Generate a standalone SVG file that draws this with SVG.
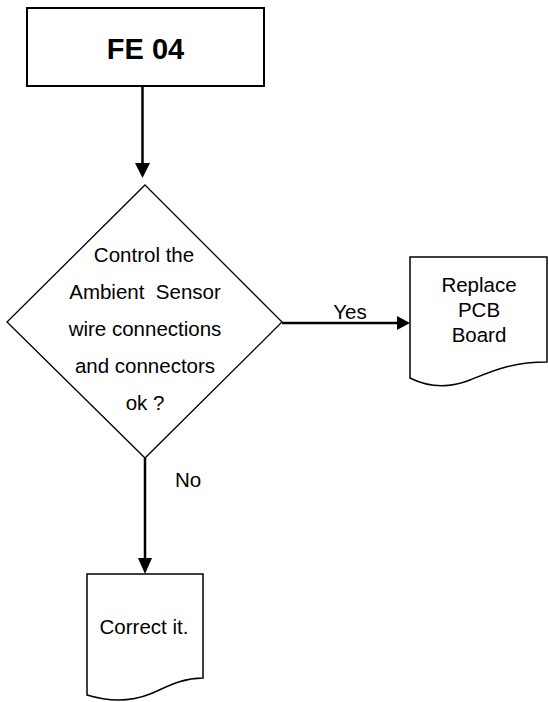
<svg xmlns="http://www.w3.org/2000/svg" width="548" height="702" viewBox="0 0 548 702">
<style>
.t{font-family:"Liberation Sans",Arial,sans-serif;font-size:20.5px;fill:#000;text-anchor:middle;white-space:pre}
.b{font-family:"Liberation Sans",Arial,sans-serif;font-size:29px;font-weight:bold;fill:#000;text-anchor:middle}
.s{fill:#fff;stroke:#000}
.c{stroke:#000;stroke-width:2.5;fill:none}
</style>
<rect width="548" height="702" fill="#fff"/>
<g id="connectors">
<line class="c" x1="142.5" y1="86" x2="142.5" y2="164"/>
<polygon points="135,163 150,163 142.5,178"/>
<line class="c" x1="282" y1="323" x2="398" y2="323"/>
<polygon points="397,316 397,330 410,323"/>
<text class="t" x="350" y="319">Yes</text>
<line class="c" x1="145" y1="458" x2="145" y2="559"/>
<polygon points="138,558 152,558 145,574"/>
<text class="t" x="188" y="487">No</text>
</g>
<g id="fe04">
<rect class="s" x="27" y="8" width="237" height="78" stroke-width="2"/>
<text class="b" x="145.5" y="59">FE 04</text>
</g>
<g id="decision">
<polygon class="s" points="145,185 282,322 145,458 7,322" stroke-width="1.3"/>
<text class="t" x="144" y="262">Control the</text>
<text class="t" x="145" y="299">Ambient  Sensor</text>
<text class="t" x="145" y="336">wire connections</text>
<text class="t" x="145" y="373">and connectors</text>
<text class="t" x="145" y="410">ok ?</text>
</g>
<g id="replace">
<path class="s" stroke-width="1.5" d="M410,257 H547 V362 C510,362 490,372 470,380 C450,388 430,388 410,378 Z"/>
<text class="t" x="479" y="292">Replace</text>
<text class="t" x="479" y="317">PCB</text>
<text class="t" x="479" y="342">Board</text>
</g>
<g id="correct">
<path class="s" stroke-width="1.5" d="M87,574 H203 V678 C180,678 165,688 150,694 C130,702 110,702 87,695 Z"/>
<text class="t" x="144" y="634">Correct it.</text>
</g>
</svg>
